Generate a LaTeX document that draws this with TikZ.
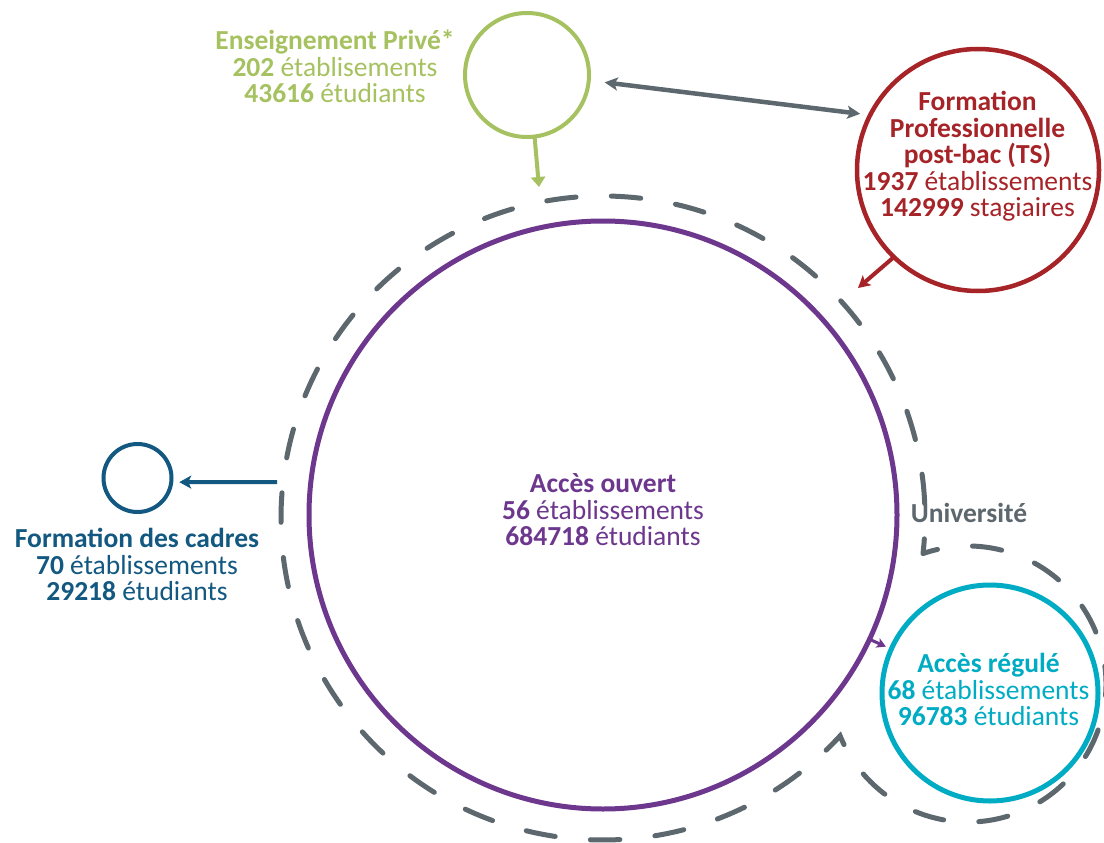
\documentclass[tikz,border=0pt]{standalone}
\usepackage{fontspec}
\setmainfont{Carlito}
\usetikzlibrary{arrows.meta}
\definecolor{cgreen}{HTML}{A6C260}
\definecolor{cred}{HTML}{A62327}
\definecolor{cgray}{HTML}{5D676E}
\definecolor{cblue}{HTML}{125880}
\definecolor{cpurple}{HTML}{6D378E}
\definecolor{ccyan}{HTML}{00ACC4}
\begin{document}
\begin{tikzpicture}[x=1pt,y=1pt,
  ring/.style={circle, draw, inner sep=0pt, outer sep=0pt, line width=4.5pt},
  lbl/.style={align=center, font=\fontsize{27.5}{26.5}\selectfont, inner sep=0pt},
  arr/.style={line width=4pt, -{Stealth[length=12pt,width=13pt,inset=3pt]}},
  dashline/.style={draw=cgray, line width=5pt, line cap=round, dash pattern=on 29.5pt off 35.3pt, dash phase=14.75pt}
]
\fill[white] (0,0) rectangle (1104,-843);
\useasboundingbox (0,0) rectangle (1104,-843);

% dashed outline "Université"
\draw[dashline] (923.03,-553.53) arc[start angle=-6.335, end angle=317.422, radius=322]
                arc[start angle=-157.93, end angle=109.02, radius=138];

% circles
\node[ring, draw=cgreen, minimum size=124pt, line width=4pt] (prive) at (527,-75) {};
\node[ring, draw=cred, minimum size=242pt] (fp) at (978,-170) {};
\node[ring, draw=cblue, minimum size=68pt, line width=4pt] (cadres) at (137.5,-478) {};
\node[ring, draw=cpurple, minimum size=588pt, line width=5pt] (ouvert) at (603,-515) {};
\node[ring, draw=ccyan, minimum size=216pt, line width=5pt] (regule) at (990,-693) {};

% labels
\node[lbl, text=cgreen] (tprive) at (335,-66.5) {\textbf{Enseignement Privé*}\\\textbf{202} établisements\\\textbf{43616} étudiants};
\node[lbl, text=cred] (tfp) at (977.5,-156.5) {\textbf{Formation}\\\textbf{Professionnelle}\\\textbf{post-bac (TS)}\\\textbf{1937} établissements\\\textbf{142999} stagiaires};
\node[lbl, text=cblue] (tcadres) at (137,-564.5) {\textbf{Formation des cadres}\\\textbf{70} établissements\\\textbf{29218} étudiants};
\node[lbl, text=cpurple] (touvert) at (603,-510) {\textbf{Accès ouvert}\\\textbf{56} établissements\\\textbf{684718} étudiants};
\node[lbl, text=ccyan] (tregule) at (988.5,-689.5) {\textbf{Accès régulé}\\\textbf{68} établissements\\\textbf{96783} étudiants};
\node[lbl, text=cgray, anchor=base] (univ) at (969,-522.7) {\textbf{Université}};

% connectors
\coordinate (gtip) at (539,-187);
\coordinate (rtip) at (858,-288);
\coordinate (bstart) at (277,-482);
\draw[line width=4pt, cgreen, -{Triangle[length=10pt,width=14pt]}] (prive.-83) -- (gtip);
\draw[line width=4.5pt, cgray, {Stealth[length=13pt,width=13pt,inset=3pt]}-{Stealth[length=13pt,width=13pt,inset=3pt]}, shorten <=16pt, shorten >=10pt] (prive.-5) -- (fp.153);
\draw[arr, cred] (fp.-134) -- (rtip);
\draw[arr, cblue, shorten >=8pt] (bstart) -- (cadres.-7);
\draw[line width=3pt, cpurple, -{Stealth[length=9pt,width=10pt,inset=2pt]}, shorten >=6pt] (ouvert.-25.6) -- (regule.156.3);
\end{tikzpicture}
\end{document}
